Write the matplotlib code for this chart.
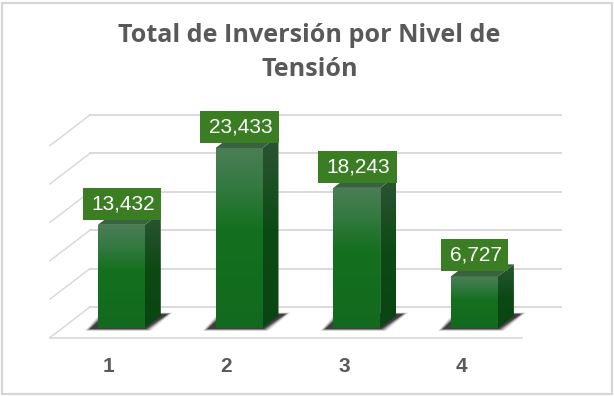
import matplotlib
matplotlib.use("Agg")
import matplotlib.pyplot as plt
import numpy as np
from matplotlib.colors import LinearSegmentedColormap
from matplotlib.patches import Polygon, Rectangle

categories = [1, 2, 3, 4]
values = [13432, 23433, 18243, 6727]
value_labels = ["13,432", "23,433", "18,243", "6,727"]
grid_values = [0, 5000, 10000, 15000, 20000, 25000]
title = "Total de Inversión por Nivel de\nTensión"

W, H = 614, 396
PX_PER_CAT = 117.7
PX_PER_VAL = 38.4 / 5000
BASE_X = 121.3  # pixel of category 1
BASE_Y = 328.0  # pixel of value 0, bar front

GREY = "#595959"
GRID = "#d9d9d9"
LABEL_BG = "#3a7d23"

fig = plt.figure(figsize=(W / 100, H / 100), dpi=100, facecolor="white")
ax = fig.add_axes([0, 0, 1, 1])
ax.set_xlim((0 - BASE_X) / PX_PER_CAT + 1, (W - BASE_X) / PX_PER_CAT + 1)
ax.set_ylim((BASE_Y - H) / PX_PER_VAL, BASE_Y / PX_PER_VAL)
ax.axis("off")


def dx(px):
    return px / PX_PER_CAT


def dy(px):
    return px / PX_PER_VAL


# chart frame
fig.add_artist(Rectangle((2 / W, 1 - 394 / H), 609.5 / W, 391.5 / H, transform=fig.transFigure,
                         fc="none", ec="#d6d6d6", lw=1.6))

# walls and floor
x_front0, x_front1 = ax.get_xlim()[0] + dx(50), ax.get_xlim()[0] + dx(522)
for v in grid_values:
    ax.plot([x_front0, x_front0 + dx(40)], [v - dy(9.5), v + dy(21)], color=GRID, lw=1.1, zorder=1)
    ax.plot([x_front0 + dx(40), x_front1 + dx(39)], [v + dy(21), v + dy(21)], color=GRID, lw=1.4, zorder=1)
ax.plot([x_front0, x_front1], [-dy(9.5), -dy(9.5)], color=GRID, lw=1.2, zorder=1)

front_cmap = LinearSegmentedColormap.from_list(
    "front", [(0, "#4b7e55"), (0.2, "#357a42"), (0.45, "#14701f"), (1, "#126a1e")])
side_cmap = LinearSegmentedColormap.from_list("side", [(0, "#2c5533"), (0.5, "#0c4a14"), (1, "#0a4412")])
gradient = np.linspace(0, 1, 256).reshape(-1, 1)

bar_w = 47 / PX_PER_CAT
depth_x, depth_y = dx(16), dy(12)

for cat, val, text in zip(categories, values, value_labels):
    left, right = cat - bar_w / 2, cat + bar_w / 2

    # soft shadow on the floor
    for grow, alpha in zip([5, 4, 3, 2, 1, 0], [0.08, 0.12, 0.18, 0.25, 0.35, 0.5]):
        ax.add_patch(Polygon([(left - dx(8 + grow), -dy(1 + grow * 0.4)),
                              (right + dx(1 + grow), -dy(1 + grow * 0.4)),
                              (right + dx(23 + grow), dy(14 + grow * 0.3)),
                              (left + dx(8 - grow), dy(14 + grow * 0.3))],
                             fc="#1c1c1c", ec="none", alpha=alpha, zorder=2))

    bars = ax.bar(cat, val, width=bar_w, color="none", zorder=3)
    front = ax.imshow(gradient, cmap=front_cmap, extent=[left, right, 0, val], aspect="auto", zorder=3)
    front.set_clip_path(bars[0])

    side = Polygon([(right, 0), (right + depth_x, depth_y), (right + depth_x, val + depth_y), (right, val)],
                   fc="none", ec="none", zorder=3)
    ax.add_patch(side)
    side_im = ax.imshow(gradient, cmap=side_cmap, extent=[right, right + depth_x, 0, val + depth_y],
                        aspect="auto", zorder=3)
    side_im.set_clip_path(side)

    ax.add_patch(Polygon([(left, val), (right, val), (right + depth_x, val + depth_y), (left + depth_x, val + depth_y)],
                         fc="#38633f", ec="none", zorder=3))

    # value label box
    box_w = dx(67 if val < 10000 else 78.5)
    ax.add_patch(Rectangle((cat + dx(0.7 if val >= 10000 else 0.2) - box_w / 2, val + dy(5)), box_w, dy(32),
                           fc=LABEL_BG, ec="none", zorder=4))
    ax.text(cat + dx(1.5), val + dy(21), text, color="white", fontsize=15, family="Liberation Sans",
            ha="center", va="center", zorder=5)
    ax.text(cat - dx(12.5), -dy(38), str(cat), color=GREY, fontsize=15, fontweight="bold",
            family="Liberation Sans", ha="center", va="center", zorder=5)

ax.set_ylim(ax.get_ylim())
ax.set_xlim(ax.get_xlim())

fig.text(309.5 / W, 1 - 52.5 / H, title, color=GREY, fontsize=18.1, fontweight="bold", family="Open Sans",
         ha="center", va="center", linespacing=1.5)

fig.savefig("out.png", dpi=100)
